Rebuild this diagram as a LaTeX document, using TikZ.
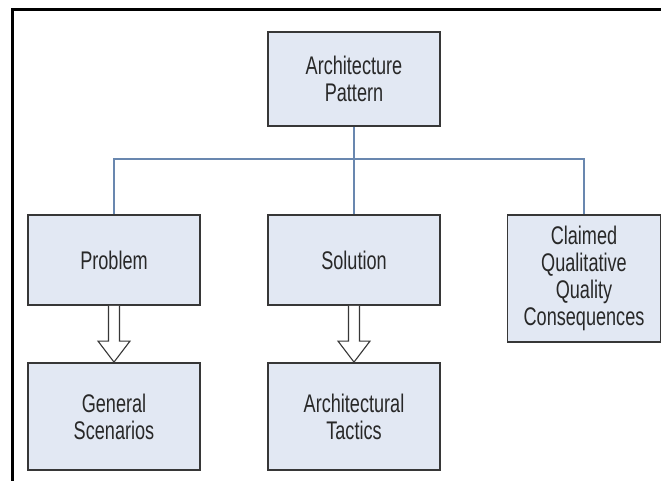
\documentclass[tikz,border=0pt]{standalone}
\usepackage{fontspec}
\setmainfont[FakeStretch=0.71]{Liberation Sans}
\usetikzlibrary{calc}
\definecolor{boxfill}{RGB}{226,232,243}
\definecolor{boxline}{RGB}{55,55,55}
\definecolor{linkblue}{RGB}{105,135,175}
\definecolor{txt}{RGB}{40,40,40}
\tikzset{
  box/.style={draw=boxline, line width=1.8pt, fill=boxfill, rectangle, align=center,
    text=txt, font=\fontsize{25.5}{27}\selectfont, inner sep=0pt},
  link/.style={draw=linkblue, line width=1.3pt},
  blockarrow/.style={draw=boxline, line width=1.1pt, fill=white, line join=miter}
}
\newcommand{\blockarr}[2]{%
  \path[blockarrow] ($(#1.south)+(-5.5,0)$) -- ($(#2.north)+(-5.5,-21)$) -- ($(#2.north)+(-16,-21)$)
    -- (#2.north) -- ($(#2.north)+(16,-21)$) -- ($(#2.north)+(5.5,-21)$) -- ($(#1.south)+(5.5,0)$);}
\begin{document}
\begin{tikzpicture}[x=1pt,y=-1pt]
\useasboundingbox (0,0) rectangle (661,481);
\fill[white] (0,0) rectangle (661,481);
\draw[line width=3pt, black] (661,10) -- (12,10) -- (12,481);
\node[box, minimum width=172pt, minimum height=94pt] (top) at (354,79) {Architecture\\Pattern};
\node[box, minimum width=172pt, minimum height=90pt] (prob) at (114,260) {Problem};
\node[box, minimum width=172pt, minimum height=90pt] (sol) at (354,260) {Solution};
\node[box, minimum width=153pt, minimum height=127pt] (claim) at (584,278.5) {Claimed\\Qualitative\\Quality\\Consequences};
\node[box, minimum width=172pt, minimum height=107pt] (gen) at (114,416.5) {General\\Scenarios};
\node[box, minimum width=172pt, minimum height=107pt] (tac) at (354,416.5) {Architectural\\Tactics};
\draw[link] (top.south) -- (sol.north);
\draw[link] (prob.north) -- ++(0,-55) -| (claim.north);
\blockarr{prob}{gen}
\blockarr{sol}{tac}
\end{tikzpicture}
\end{document}
